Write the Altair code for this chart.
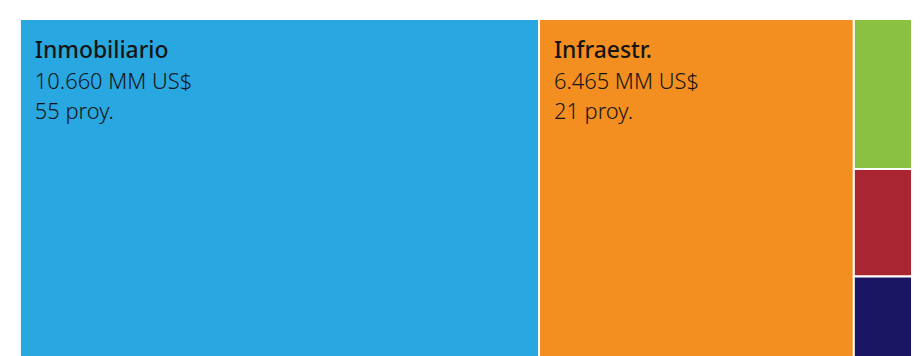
import altair as alt
import pandas as pd

# ---- data ----
categories = ["Inmobiliario", "Infraestr.", "Energía", "Minería", "Industria"]
values = [10660, 6465, 495, 355, 345]          # MM US$
projects = [55, 21]                               # labelled tiles only
colors = ["#29A7E0", "#F28F20", "#8BC142", "#AA2532", "#1B1664"]
n_full_columns = 2                                # tiles drawn as full-height columns

# ---- slice/dice treemap layout computed from the values ----
total = sum(values)
rest_total = sum(values[n_full_columns:])
rows = []
cum = 0
for c, v in zip(categories[:n_full_columns], values[:n_full_columns]):
    rows.append(dict(cat=c, x0=cum, x1=cum + v, y0=0.0, y1=1.0))
    cum += v
cum_rest = 0
for c, v in zip(categories[n_full_columns:], values[n_full_columns:]):
    rows.append(dict(cat=c, x0=cum, x1=total, y0=cum_rest / rest_total,
                     y1=(cum_rest + v) / rest_total))
    cum_rest += v
df = pd.DataFrame(rows)

def fmt(v):
    return f"{v:,}".replace(",", ".") + " MM US$"

text_df = pd.DataFrame({
    "x0": df["x0"][:len(projects)],
    "ty": 0.0,
    "l1": categories[:len(projects)],
    "l2": [fmt(v) for v in values[:len(projects)]],
    "l3": [f"{p} proy." for p in projects],
})

xs = alt.Scale(domain=[0, total], nice=False, zero=False)
ys = alt.Scale(domain=[0, 1], reverse=True, nice=False, zero=False)

rects = alt.Chart(df).mark_rect(stroke="white", strokeWidth=2).encode(
    x=alt.X("x0:Q", scale=xs, axis=None),
    x2="x1:Q",
    y=alt.Y("y0:Q", scale=ys, axis=None),
    y2="y1:Q",
    color=alt.Color("cat:N", scale=alt.Scale(domain=categories, range=colors), legend=None),
)

def line(field, dy, size, weight):
    return alt.Chart(text_df).mark_text(
        align="left", baseline="alphabetic", dx=15, dy=dy,
        font="Noto Sans", fontSize=size, fontWeight=weight, color="#141414",
    ).encode(
        x=alt.X("x0:Q", scale=xs, axis=None),
        y=alt.Y("ty:Q", scale=ys, axis=None),
        text=f"{field}:N",
    )

chart = alt.layer(
    rects,
    line("l1", 39, 23, 500),
    line("l2", 70, 22, 300),
    line("l3", 101, 22, 300),
).properties(
    width=897, height=364,
    padding={"left": 11, "top": 9, "right": 0, "bottom": 0},
    background="white",
).configure_view(stroke=None)

chart.save("out.html", embed_options={"renderer": "svg", "actions": False})
